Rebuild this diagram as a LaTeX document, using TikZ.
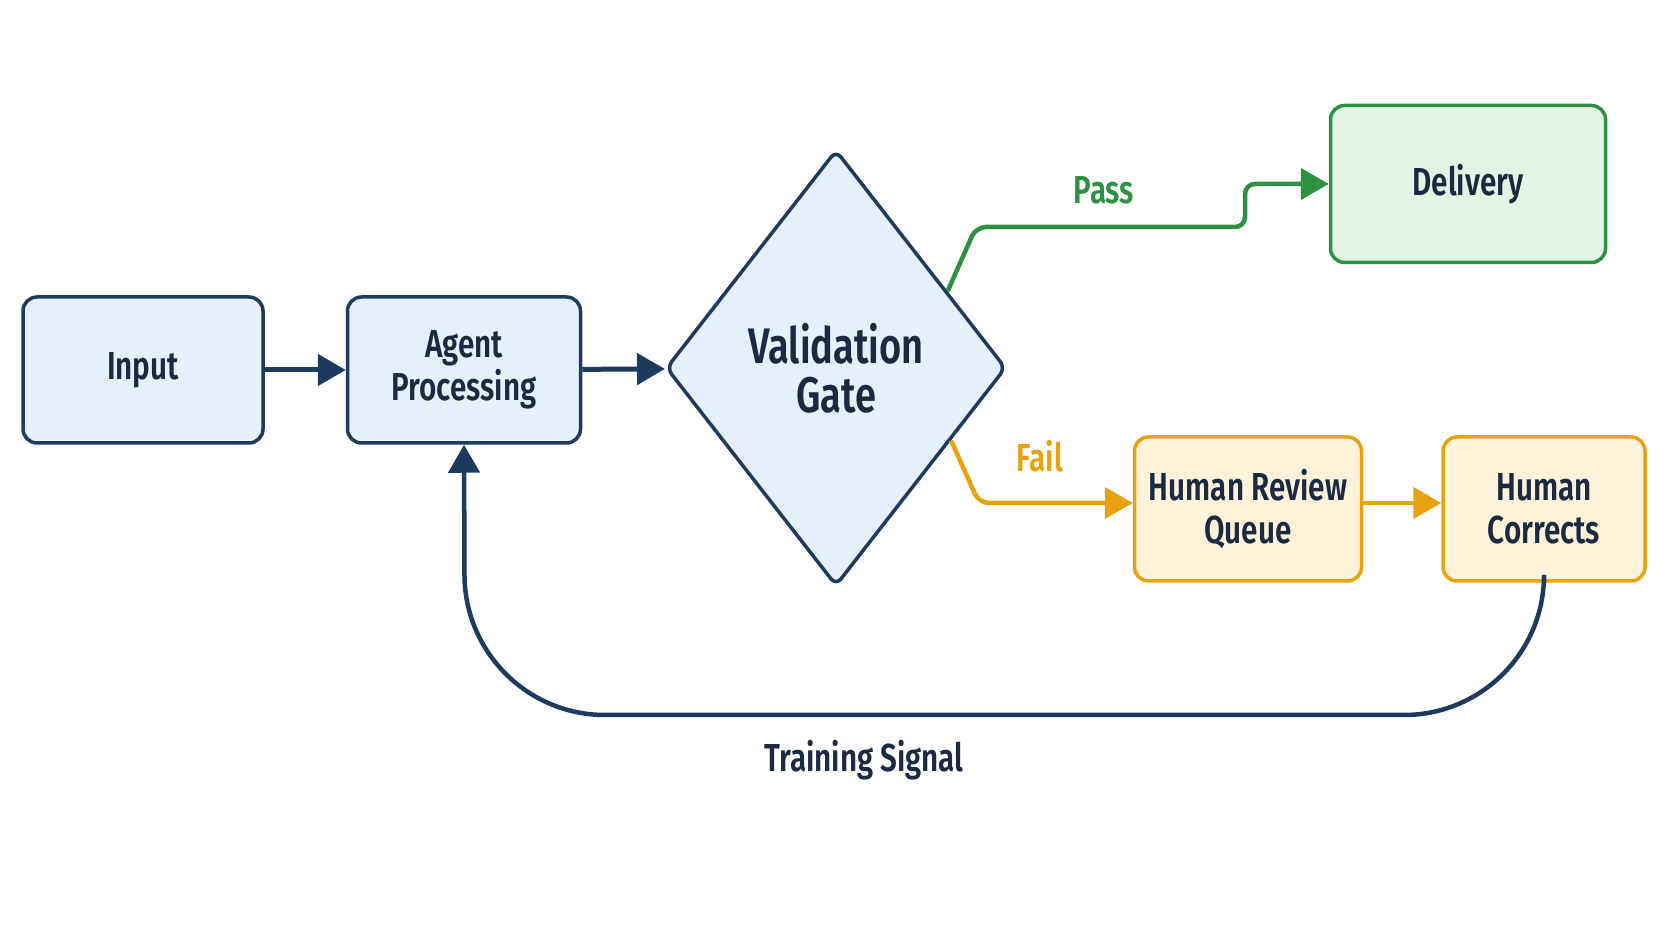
\documentclass[tikz,border=0pt]{standalone}
\usepackage{fontspec}
\setmainfont{Fira Sans}[FakeStretch=0.76, BoldFont={Fira Sans SemiBold}]
\definecolor{mNavy}{HTML}{1E3A5F}
\definecolor{mInk}{HTML}{1B2A41}
\definecolor{mBlueBg}{HTML}{E6F0FB}
\definecolor{mGreen}{HTML}{2E9142}
\definecolor{mGreenBg}{HTML}{E4F4E4}
\definecolor{mOrange}{HTML}{E8A20F}
\definecolor{mOrangeBg}{HTML}{FDF3DB}
\usepackage{tikz}
\usetikzlibrary{positioning,arrows.meta,calc,shapes.geometric}

\begin{document}
\begin{tikzpicture}[x=1pt, y=1pt, font=\bfseries\fontsize{39}{43}\selectfont, text=mInk,
  box/.style={draw=mNavy, line width=3.5pt, fill=mBlueBg, rounded corners=14pt, minimum height=146pt, align=center, inner sep=0pt},
  flow/.style={-{Triangle[length=28pt,width=31pt]}, line width=5pt},
  lbl/.style={font=\bfseries\fontsize{39}{43}\selectfont}]
\useasboundingbox (0,0) rectangle (1672,941);
\node[box, minimum width=240pt] (input) at (143,571) {Input};
\node[box, minimum width=233pt] (agent) at (464,571) {Agent\\Processing};
\node[draw=mNavy, line width=3.5pt, fill=mBlueBg, diamond, rounded corners=8pt, minimum width=340pt, minimum height=436pt, inner sep=0pt, align=center, font=\bfseries\fontsize{50}{49}\selectfont] (gate) at (836,573) {Validation\\Gate};
\node[box, draw=mGreen, fill=mGreenBg, minimum width=275pt, minimum height=157pt] (delivery) at (1468,757) {Delivery};
\node[box, draw=mOrange, fill=mOrangeBg, minimum width=227pt, minimum height=144pt] (review) at (1248,432) {Human Review\\Queue};
\node[box, draw=mOrange, fill=mOrangeBg, minimum width=202pt, minimum height=144pt] (corrects) at (1544,432) {Human\\Corrects};
% branch points on the diamond edges
\coordinate (passout) at ($(gate.east)!0.35!(gate.north)$);
\coordinate (failout) at ($(gate.east)!0.33!(gate.south)$);
\draw[flow, mNavy] (input) -- (agent);
\draw[flow, mNavy] (agent) -- (gate);
\draw[flow, mGreen, line width=4.5pt, rounded corners=10pt] (passout) -- (976,714) -- (1245,714) -- (1245,757) -- (delivery.west);
\node[lbl, text=mGreen] (passlbl) at (1104,751) {Pass};
\draw[flow, mOrange, line width=4.5pt, rounded corners=10pt] (failout) -- (979,438) -- ($(review.west)+(0,6)$);
\node[lbl, text=mOrange] (faillbl) at (1040,485) {Fail};
\draw[flow, mOrange, line width=4.5pt] ($(review.east)+(0,6)$) -- ($(corrects.west)+(0,6)$);
\draw[flow, mNavy, line width=4.5pt, rounded corners=140pt] (corrects.south) -- (1544,226) -- (465,226) -- (agent.south);
\node[lbl] (trainlbl) at (864,181) {Training Signal};
\end{tikzpicture}
\end{document}
